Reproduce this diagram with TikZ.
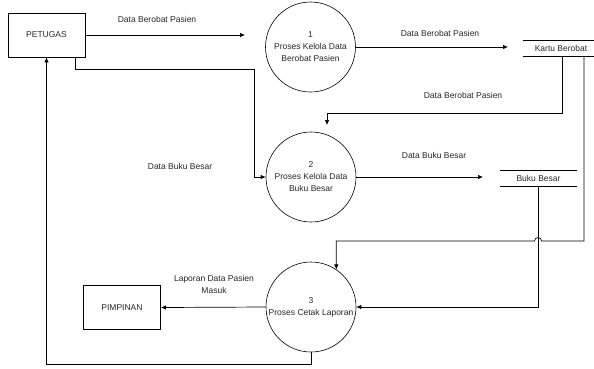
\documentclass[tikz,border=0pt]{standalone}
\usepackage{fontspec}
\setmainfont{Liberation Sans}
\usetikzlibrary{arrows.meta,calc}

\begin{document}
\begin{tikzpicture}[
    x=1pt, y=-1pt,
    every node/.style={font=\fontsize{8.5}{12}\selectfont, text=black!85},
    entitas/.style={rectangle, draw, line width=0.7pt, minimum width=77pt, minimum height=44pt},
    proses/.style={circle, draw, line width=0.6pt, minimum size=90pt, inner sep=0pt, align=center},
    simpan/.style={rectangle, minimum height=15pt, inner sep=0pt},
    alir/.style={line width=0.7pt, -{Latex[length=5pt,width=4.5pt]}},
    garis/.style={line width=0.7pt}
]
\useasboundingbox (0,0) rectangle (594,368);

% entitas luar
\node[entitas] (petugas) at (46.5,35) {PETUGAS};
\node[entitas] (pimpinan) at (122,307.5) {PIMPINAN};

% proses
\node[proses] (p1) at (310.5,47) {1\\Proses Kelola Data\\Berobat Pasien};
\node[proses] (p2) at (311,177) {2\\Proses Kelola Data\\Buku Besar};
\node[proses] (p3) at (311,307) {3\\Proses Cetak Laporan};

% data store
\node[simpan, minimum width=71pt] (kartu) at (558.5,48.5) {\hspace{5pt}Kartu Berobat};
\node[simpan, minimum width=77pt] (buku) at (538.5,178.5) {Buku Besar};
\draw[garis] (kartu.north west) -- (kartu.north east) (kartu.south west) -- (kartu.south east);
\draw[garis] (buku.north west) -- (buku.north east) (buku.south west) -- (buku.south east);

\coordinate (ujung1) at (245,35);
\coordinate (ujung2) at (508,47);
\coordinate (ujung3) at (483,177);

% aliran data
\draw[alir] (petugas.east) -- (ujung1);
\draw[alir] (p1.east) -- (ujung2);
\draw[alir] (p2.east) -- (ujung3);
\draw[alir] (562,0 |- kartu.south) -- (562,113) -- (327,113) -- (327,125);
\draw[alir] (584,0 |- kartu.south) -- (584,241) -- (541.5,241)
    arc (0:-180:3.5) -- (p3.56 |- 0,241) -- (p3.56);
\draw[alir] (buku.south) |- (p3.east);
\draw[alir] ($(petugas.south east)+(-10,0)$) |- (254,69) |- (p2.west);
\draw[alir] (p3.west) -- (pimpinan.east);
\draw[alir] (p3.south) -- ++(0,12) -| (petugas.south);

% label
\node at (157,19) {Data Berobat Pasien};
\node at (440,33) {Data Berobat Pasien};
\node at (463,95) {Data Berobat Pasien};
\node at (180,166) {Data Buku Besar};
\node at (434,155) {Data Buku Besar};
\node[align=center] at (214,284) {Laporan Data Pasien\\Masuk};

\end{tikzpicture}
\end{document}
